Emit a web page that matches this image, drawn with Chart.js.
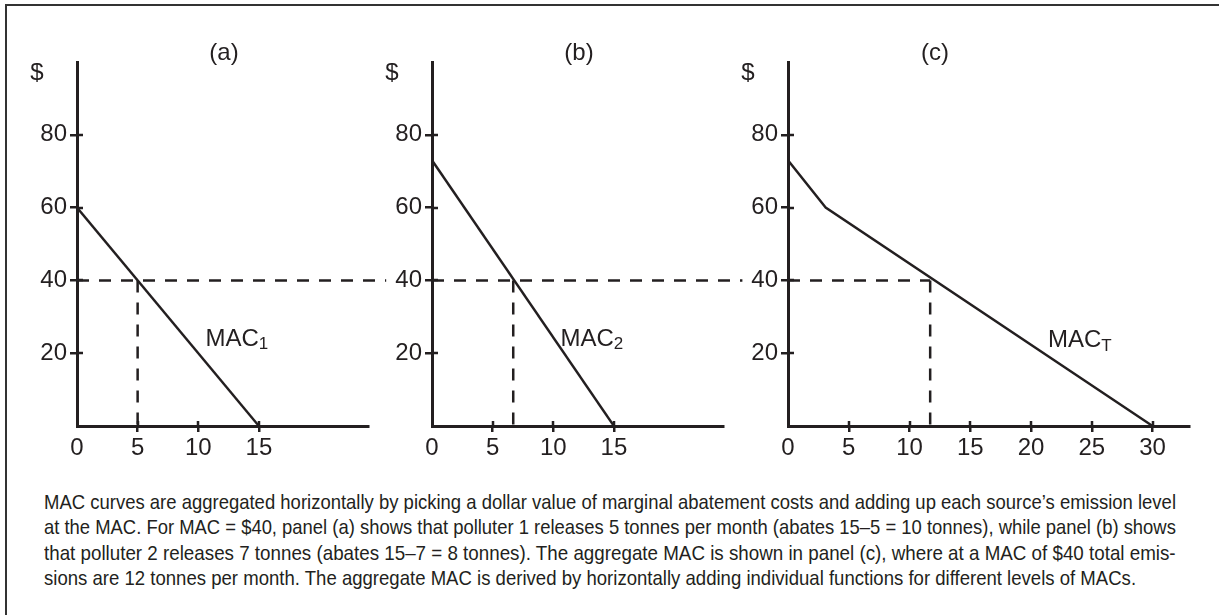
<!DOCTYPE html>
<html>
<head>
<meta charset="utf-8">
<script src="https://cdn.jsdelivr.net/npm/chart.js@4.4.1/dist/chart.umd.min.js"></script>
<style>
  html, body { margin: 0; padding: 0; background: #fff; }
  body { width: 1219px; height: 615px; position: relative; overflow: hidden; }
  #frame { position: absolute; left: 5px; top: 4px; width: 1300px; height: 700px;
           border-top: 2px solid #333; border-left: 2px solid #333; }
  canvas { position: absolute; top: 0; }
  #caption { position: absolute; left: 44px; top: 489px; width: 1132px; color: #231f20;
             font-family: "Liberation Sans", Arial, sans-serif;
             font-size: 21px; line-height: 25.3px; }
  #caption div { white-space: nowrap; height: 25.3px; }
  #caption span { display: inline-block; transform-origin: 0 0; }
</style>
</head>
<body>
<div id="frame"></div>
<canvas id="panel_a" width="400" height="470" style="left:0px"></canvas>
<canvas id="panel_b" width="400" height="470" style="left:355px"></canvas>
<canvas id="panel_c" width="508" height="470" style="left:711px"></canvas>
<div id="caption">
  <div><span>MAC curves are aggregated horizontally by picking a dollar value of marginal abatement costs and adding up each source’s emission level</span></div>
  <div><span>at the MAC. For MAC = $40, panel (a) shows that polluter 1 releases 5 tonnes per month (abates 15–5 = 10 tonnes), while panel (b) shows</span></div>
  <div><span>that polluter 2 releases 7 tonnes (abates 15–7 = 8 tonnes). The aggregate MAC is shown in panel (c), where at a MAC of $40 total emis-</span></div>
  <div><span>sions are 12 tonnes per month. The aggregate MAC is derived by horizontally adding individual functions for different levels of MACs.</span></div>
</div>
<script>
const INK = '#231f20'
const FONT = '"Liberation Sans", Arial, Helvetica, sans-serif'

// MAC curves (emissions in tonnes, $ per tonne)
const mac1X = [0, 15]
const mac1Y = [60, 0]
const mac2X = [0, 15]
const mac2Y = [73, 0]
const macTX = [0, 3.1, 30]
const macTY = [73, 60, 0]

// the $40 price line and where each panel's curve meets it
const price = 40
const emitA = 5
const emitB = 6.7
const emitT = 11.7
// the dashed $40 line runs on past the axis into the next panel
const reachA = 25.5
const reachB = 25.6

// axes
const yTicks = [20, 40, 60, 80]
const xTicksAB = [0, 5, 10, 15]
const xTicksC = [0, 5, 10, 15, 20, 25, 30]
const yMax = 100
const xMaxAB = 24
const xMaxC = 33

function pts(xs, ys) {
  return xs.map((x, i) => ({x: x, y: ys[i]}))
}

function dashed(data) {
  return {data: data, borderColor: INK, borderWidth: 2.5, borderDash: [12, 10],
          pointRadius: 0, clip: false}
}

// draws panel title, the "$" and the curve label
const panelText = {
  id: 'panelText',
  afterDraw(chart, args, opts) {
    let ctx = chart.ctx
    let area = chart.chartArea
    ctx.save()
    ctx.fillStyle = INK
    ctx.textBaseline = 'middle'
    ctx.textAlign = 'center'
    ctx.font = '24px ' + FONT
    ctx.fillText(opts.title, area.left + 147, 53)
    ctx.fillText('$', area.left - 40, area.top + 11)

    let x = chart.scales.x.getPixelForValue(opts.labelAt[0])
    let y = chart.scales.y.getPixelForValue(opts.labelAt[1])
    ctx.textAlign = 'left'
    ctx.fillText(opts.label, x, y)
    let w = ctx.measureText(opts.label).width
    ctx.font = '17px ' + FONT
    ctx.fillText(opts.sub, x + w, y + 5)
    ctx.restore()
  }
}

// tick marks that cross the axis line: the inner half
const innerTicks = {
  id: 'innerTicks',
  afterDraw(chart) {
    let ctx = chart.ctx
    let area = chart.chartArea
    ctx.save()
    ctx.strokeStyle = INK
    ctx.lineWidth = 2.5
    ctx.beginPath()
    chart.scales.x.ticks.forEach(t => {
      if (t.value === 0) return
      let px = Math.round(chart.scales.x.getPixelForValue(t.value))
      ctx.moveTo(px, area.bottom)
      ctx.lineTo(px, area.bottom - 5)
    })
    chart.scales.y.ticks.forEach(t => {
      let py = Math.round(chart.scales.y.getPixelForValue(t.value))
      ctx.moveTo(area.left, py)
      ctx.lineTo(area.left + 6, py)
    })
    ctx.stroke()
    ctx.restore()
  }
}

function makePanel(id, curve, guides, xMax, xTicks, text) {
  let tickFont = {family: FONT, size: 24}
  return new Chart(document.getElementById(id), {
    type: 'line',
    data: {
      datasets: [
        {data: curve, borderColor: INK, borderWidth: 2.4, pointRadius: 0, tension: 0},
        ...guides.map(dashed)
      ]
    },
    options: {
      responsive: false,
      animation: false,
      layout: {padding: {left: 27, right: id === 'panel_c' ? 30 : 32, top: 62, bottom: 4}},
      plugins: {
        legend: {display: false},
        tooltip: {enabled: false},
        panelText: text
      },
      scales: {
        x: {
          type: 'linear', min: 0, max: xMax,
          afterBuildTicks: s => { s.ticks = xTicks.map(v => ({value: v})) },
          afterFit: s => { s.height = 40 },
          border: {display: true, color: INK, width: 3},
          grid: {drawOnChartArea: false, tickLength: 6, lineWidth: 2.5,
                 color: c => (c.tick && c.tick.value === 0) ? 'rgba(0,0,0,0)' : INK},
          ticks: {color: INK, font: tickFont, padding: 2, maxRotation: 0, autoSkip: false}
        },
        y: {
          min: 0, max: yMax,
          afterBuildTicks: s => { s.ticks = yTicks.map(v => ({value: v})) },
          afterFit: s => { s.width = 50 },
          border: {display: true, color: INK, width: 3},
          grid: {drawOnChartArea: false, tickLength: 7, lineWidth: 2.5, color: INK},
          ticks: {color: INK, font: tickFont, padding: 3, autoSkip: false}
        }
      }
    },
    plugins: [panelText, innerTicks]
  })
}

makePanel('panel_a', pts(mac1X, mac1Y),
  [pts([0, reachA], [price, price]), pts([emitA, emitA], [price, 0])],
  xMaxAB, xTicksAB, {title: '(a)', label: 'MAC', sub: '1', labelAt: [10.6, 23.9]})

makePanel('panel_b', pts(mac2X, mac2Y),
  [pts([0, reachB], [price, price]), pts([emitB, emitB], [price, 0])],
  xMaxAB, xTicksAB, {title: '(b)', label: 'MAC', sub: '2', labelAt: [10.6, 23.9]})

makePanel('panel_c', pts(macTX, macTY),
  [pts([0, emitT], [price, price]), pts([emitT, emitT], [price, 0])],
  xMaxC, xTicksC, {title: '(c)', label: 'MAC', sub: 'T', labelAt: [21.4, 23.4]})

// caption set in a condensed style: squeeze each full line to the column width
let lines = Array.from(document.querySelectorAll('#caption span'))
let scales = lines.slice(0, -1).map(s => 1132 / s.offsetWidth)
let avg = scales.reduce((a, b) => a + b, 0) / scales.length
lines.forEach((s, i) => {
  let k = i < scales.length ? scales[i] : avg
  s.style.transform = `scaleX(${k})`
})
</script>
</body>
</html>
